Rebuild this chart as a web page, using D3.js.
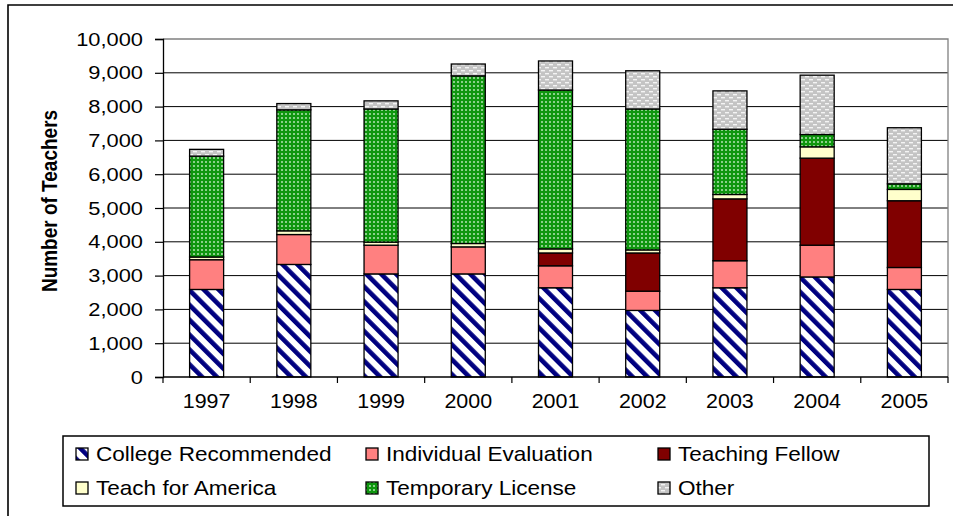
<!DOCTYPE html>
<html><head><meta charset="utf-8">
<script src="https://cdn.jsdelivr.net/npm/d3@7"></script>
<style>
body{margin:0;background:#fff}
svg{display:block}
text{font-family:"Liberation Sans",Arial,sans-serif;fill:#000}
</style>
</head><body>
<script>
// ---- data ----
const years = ["1997","1998","1999","2000","2001","2002","2003","2004","2005"];
const collegeRecommended = [2590,3330,3050,3050,2640,1970,2640,2960,2590];
const individualEvaluation = [880,885,850,800,650,570,800,940,650];
const teachingFellow = [0,0,0,0,380,1130,1830,2575,1975];
const teachForAmerica = [80,110,90,100,120,90,130,335,335];
const temporaryLicense = [2985,3580,3940,4960,4700,4170,1930,365,165];
const other = [200,185,240,350,860,1130,1135,1755,1660];
const seriesNames = ["College Recommended","Individual Evaluation","Teaching Fellow","Teach for America","Temporary License","Other"];
const yTicks = [0,1000,2000,3000,4000,5000,6000,7000,8000,9000,10000];

const seriesValues = [collegeRecommended,individualEvaluation,teachingFellow,teachForAmerica,temporaryLicense,other];
const table = years.map((y,i)=>{const o={year:y};seriesNames.forEach((n,k)=>o[n]=seriesValues[k][i]);return o;});

const W=953,H=516;
const svg=d3.select("body").append("svg").attr("width",W).attr("height",H);
const defs=svg.append("defs");

// patterns
const PS=10.5;
const pS=defs.append("pattern").attr("id","pat0").attr("patternUnits","userSpaceOnUse")
  .attr("width",PS).attr("height",PS).attr("patternTransform","rotate(-45)");
pS.append("rect").attr("width",PS).attr("height",PS).attr("fill","#fff");
pS.append("rect").attr("x",0).attr("width",4.6).attr("height",PS).attr("fill","#000080");

const pG=defs.append("pattern").attr("id","pat4").attr("patternUnits","userSpaceOnUse").attr("width",4).attr("height",4);
pG.append("rect").attr("width",4).attr("height",4).attr("fill","#0f960f");
pG.append("rect").attr("x",1.2).attr("y",1.2).attr("width",1.6).attr("height",1.6).attr("fill","#d0f0d0");

const pO=defs.append("pattern").attr("id","pat5").attr("patternUnits","userSpaceOnUse").attr("width",8).attr("height",6);
pO.append("rect").attr("width",8).attr("height",6).attr("fill","#c4c4c4");
pO.append("rect").attr("x",1).attr("y",1).attr("width",4).attr("height",1.4).attr("fill","#f4f4f4");
pO.append("rect").attr("x",5).attr("y",4).attr("width",3).attr("height",1.4).attr("fill","#f4f4f4");
pO.append("rect").attr("x",0).attr("y",4).attr("width",1).attr("height",1.4).attr("fill","#f4f4f4");

const fills=["url(#pat0)","#FF8080","#800000","#FFFFCC","url(#pat4)","url(#pat5)"];

// outer frame
svg.append("path").attr("d",`M8,${H} L8,5 L${W},5`).attr("fill","none").attr("stroke","#000").attr("stroke-width",1.6);

const L=163,R=948,T=39,B=377;
const y=d3.scaleLinear().domain([0,10000]).range([B,T]);
const x=d3.scaleBand().domain(years).range([L,R]).paddingInner(0.61).paddingOuter(0.305);

// gridlines
svg.append("g").selectAll("line").data(yTicks.filter(d=>d>0&&d<10000)).join("line")
  .attr("x1",L).attr("x2",R).attr("y1",d=>y(d)).attr("y2",d=>y(d)).attr("stroke","#000").attr("stroke-width",1);
// plot border top/right (gray)
svg.append("path").attr("d",`M${L},${y(10000)} L${R},${y(10000)} L${R},${B}`).attr("fill","none").attr("stroke","#808080").attr("stroke-width",1.3);

// bars
const stacked=d3.stack().keys(seriesNames)(table);
svg.append("g").selectAll("g").data(stacked).join("g")
  .attr("fill",(d,i)=>fills[i])
  .selectAll("rect").data(d=>d.filter(s=>s[1]-s[0]>0)).join("rect")
  .attr("x",d=>x(d.data.year)).attr("width",x.bandwidth())
  .attr("y",d=>y(d[1])).attr("height",d=>y(d[0])-y(d[1]))
  .attr("stroke","#000").attr("stroke-width",1.3);

// y axis
const sxT=1.15;
const ya=svg.append("g").attr("transform",`translate(${L},0)`)
  .call(d3.axisLeft(y).tickValues(yTicks).tickSize(8).tickPadding(12).tickFormat(d3.format(",")));
ya.select(".domain").attr("stroke","#000").attr("stroke-width",1.3);
ya.selectAll(".tick line").attr("stroke","#000").attr("stroke-width",1.2);
ya.selectAll(".tick text").attr("font-size",19).attr("font-family",null)
  .attr("x",-20/sxT).attr("transform",`scale(${sxT},1)`);

// x axis
const sxX=1.1;
const xa=svg.append("g").attr("transform",`translate(0,${B})`)
  .call(d3.axisBottom(x).tickSize(0).tickPadding(24));
xa.select(".domain").remove();
xa.selectAll(".tick text").attr("font-size",19.5).attr("font-family",null)
  .attr("dy","0.71em").attr("y",17).attr("x",0).attr("transform",`scale(${sxX},1)`);
svg.append("line").attr("x1",L).attr("x2",R).attr("y1",B).attr("y2",B).attr("stroke","#000").attr("stroke-width",1.3);
svg.append("g").selectAll("line").data(d3.range(years.length+1)).join("line")
  .attr("x1",i=>x.range()[0]+i*x.step()).attr("x2",i=>x.range()[0]+i*x.step())
  .attr("y1",B).attr("y2",B+6).attr("stroke","#000").attr("stroke-width",1.2);

// y label
svg.append("text").attr("transform",`translate(57,201) scale(1.12,1) rotate(-90)`)
  .attr("text-anchor","middle").attr("font-weight","bold").attr("font-size",19)
  .text("Number of Teachers");

// legend
const sxL=1.1;
svg.append("rect").attr("x",63).attr("y",436).attr("width",866).attr("height",70)
  .attr("fill","#fff").attr("stroke","#000").attr("stroke-width",1.5);
const colX=[76,366,658], rowY=[454,488];
seriesNames.forEach((n,i)=>{
  const cx=colX[i%3], cy=rowY[Math.floor(i/3)];
  svg.append("rect").attr("x",cx).attr("y",cy-6).attr("width",12).attr("height",12)
    .attr("fill",fills[i]).attr("stroke","#000").attr("stroke-width",1.3);
  svg.append("text").attr("x",(cx+20)/sxL).attr("y",cy+7).attr("transform",`scale(${sxL},1)`)
    .attr("font-size",20.5).text(n);
});
</script>
</body></html>
